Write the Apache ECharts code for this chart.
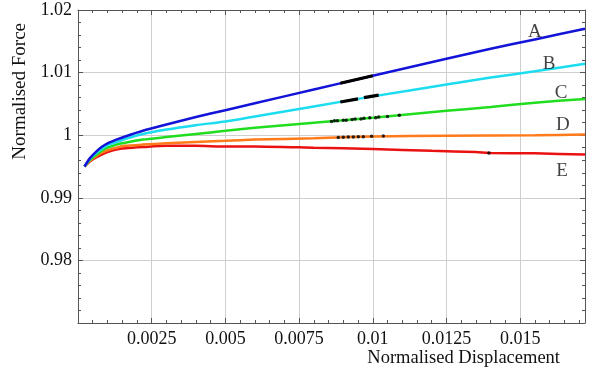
<!DOCTYPE html>
<html>
<head>
<meta charset="utf-8">
<script src="https://cdn.jsdelivr.net/npm/echarts@6/dist/echarts.min.js"></script>
<style>
  html, body { margin: 0; padding: 0; background: #fff; }
  #chart { width: 589px; height: 373px; }
</style>
</head>
<body>
<div id="chart"></div>
<script>
// Normalised force vs normalised displacement, five cases A–E
const xA = [0.00022, 0.0004, 0.0006, 0.0008, 0.001, 0.0013, 0.0016, 0.0022, 0.003, 0.004, 0.005, 0.006, 0.008, 0.010, 0.0125, 0.014, 0.0155, 0.0172];
const yA = [0.9950, 0.9963, 0.9973, 0.9981, 0.9987, 0.9993, 0.9998, 1.0007, 1.0017, 1.0029, 1.0040, 1.0051, 1.0073, 1.0095, 1.0122, 1.0138, 1.0153, 1.0170];

const xB = [0.00022, 0.0004, 0.0006, 0.0008, 0.001, 0.0013, 0.0016, 0.0022, 0.003, 0.004, 0.005, 0.006, 0.008, 0.010, 0.0125, 0.014, 0.0155, 0.0172];
const yB = [0.9950, 0.9962, 0.9971, 0.9978, 0.9984, 0.9989, 0.9994, 1.0002, 1.0009, 1.0016, 1.0022, 1.0030, 1.0046, 1.0062, 1.0081, 1.0092, 1.0102, 1.0114];

const xC = [0.00022, 0.0004, 0.0006, 0.0008, 0.001, 0.0013, 0.0016, 0.0022, 0.003, 0.004, 0.005, 0.006, 0.008, 0.010, 0.0125, 0.014, 0.0155, 0.0172];
const yC = [0.9950, 0.9960, 0.9968, 0.9975, 0.9980, 0.9985, 0.9988, 0.9993, 0.9997, 1.0002, 1.0007, 1.0012, 1.0020, 1.0028, 1.0039, 1.0045, 1.0052, 1.0058];

const xD = [0.00022, 0.0004, 0.0006, 0.0008, 0.001, 0.0013, 0.0016, 0.0022, 0.003, 0.005, 0.006, 0.008, 0.010, 0.0125, 0.0155, 0.0172];
const yD = [0.9950, 0.9959, 0.9966, 0.9972, 0.9976, 0.9980, 0.9983, 0.9985, 0.9987, 0.9991, 0.9993, 0.9995, 0.9998, 0.9999, 1.0000, 1.0001];

const xE = [0.00022, 0.0004, 0.0006, 0.0008, 0.001, 0.0013, 0.0016, 0.0022, 0.003, 0.004, 0.005, 0.006, 0.008, 0.010, 0.012, 0.0135, 0.014, 0.0155, 0.0172];
const yE = [0.9950, 0.9958, 0.9964, 0.9969, 0.9973, 0.9977, 0.9979, 0.9981, 0.9983, 0.9983, 0.9982, 0.9982, 0.9980, 0.9978, 0.9975, 0.9973, 0.99715, 0.9971, 0.9969];

// Measured points overlaid on the curves
const mAx = [0.0089, 0.0100];
const mAy = [1.0083, 1.0095];
const mB1x = [0.0089, 0.0095];
const mB1y = [1.0053, 1.0058];
const mB2x = [0.0097, 0.0102];
const mB2y = [1.0060, 1.0064];
const mCx = [0.0086, 0.0087, 0.0088, 0.0090, 0.0091, 0.0093, 0.0094, 0.0096, 0.0097, 0.0099, 0.0101, 0.0102, 0.0105, 0.0109];
const mCy = [1.0022, 1.0023, 1.0023, 1.0024, 1.0024, 1.0025, 1.0026, 1.0026, 1.0027, 1.0028, 1.0028, 1.0029, 1.0030, 1.0032];
const mDx = [0.00883, 0.0090, 0.00917, 0.00934, 0.00951, 0.00968, 0.00996, 0.01036];
const mDy = [0.99964, 0.99967, 0.9997, 0.99972, 0.99975, 0.99977, 0.99982, 0.99986];
const mEx = [0.01394];
const mEy = [0.99716];

// Curve letters and where they sit
const tagNames = ['A', 'B', 'C', 'D', 'E'];
const tagX = [0.0155, 0.01598, 0.01639, 0.01645, 0.01642];
const tagY = [1.0165, 1.0114, 1.0068, 1.0017, 0.9943];

const xTickStep = 0.0025;
const yTickStep = 0.01;

const colors = {
  A: '#1414d8',
  B: '#1cdcf0',
  C: '#20dd20',
  D: '#ff7a1a',
  E: '#ea1111'
};

const zip = (xs, ys) => xs.map((x, i) => [x, ys[i]]);
const FONT = '"Liberation Serif", "Times New Roman", serif';
const frameColor = '#555';

const baseX = {
  type: 'value', min: 0, max: 0.0172, interval: xTickStep,
  axisLine: { show: true, onZero: false, lineStyle: { color: frameColor, width: 1 } },
  axisTick: { show: true, inside: true, length: 5, lineStyle: { color: frameColor } },
  minorTick: { show: true, splitNumber: 5, length: 3, lineStyle: { color: frameColor } },
};
const baseY = {
  type: 'value', min: 0.97, max: 1.02, interval: yTickStep,
  axisLine: { show: true, onZero: false, lineStyle: { color: frameColor, width: 1 } },
  axisTick: { show: true, inside: true, length: 5, lineStyle: { color: frameColor } },
  minorTick: { show: true, splitNumber: 5, length: 3, lineStyle: { color: frameColor } },
};

function curve(name, xs, ys, z) {
  return {
    name, type: 'line', data: zip(xs, ys), showSymbol: false, smooth: 0.2,
    lineStyle: { color: colors[name], width: 2.5 }, z, animation: false
  };
}

function blackLine(xs, ys) {
  return {
    type: 'line', data: zip(xs, ys), showSymbol: false,
    lineStyle: { color: '#000', width: 3.2 }, z: 10, animation: false
  };
}

function blackDots(xs, ys) {
  return {
    type: 'scatter', data: zip(xs, ys), symbolSize: 3.5,
    itemStyle: { color: '#000' }, z: 10, animation: false
  };
}

const chart = echarts.init(document.getElementById('chart'), null, { renderer: 'canvas' });
chart.setOption({
  animation: false,
  backgroundColor: '#fff',
  grid: { left: 78, right: 4, top: 10, bottom: 50, containLabel: false, outerBoundsMode: 'none' },
  xAxis: [
    Object.assign({}, baseX, {
      position: 'bottom',
      splitLine: { show: true, lineStyle: { color: '#cfcfcf', width: 1 } },
      axisLabel: {
        show: true, showMinLabel: false, showMaxLabel: false, margin: 7,
        fontFamily: FONT, fontSize: 18, color: '#111',
        formatter: v => String(+v.toFixed(5))
      }
    }),
    Object.assign({}, baseX, {
      position: 'top',
      splitLine: { show: false },
      axisLabel: { show: false }
    })
  ],
  yAxis: [
    Object.assign({}, baseY, {
      position: 'left',
      splitLine: { show: true, lineStyle: { color: '#cfcfcf', width: 1 } },
      axisLabel: {
        show: true, showMinLabel: false, margin: 6,
        fontFamily: FONT, fontSize: 18, color: '#111',
        formatter: v => String(+v.toFixed(4))
      }
    }),
    Object.assign({}, baseY, {
      position: 'right',
      splitLine: { show: false },
      axisLabel: { show: false }
    })
  ],
  series: [
    curve('E', xE, yE, 2),
    curve('D', xD, yD, 3),
    curve('C', xC, yC, 4),
    curve('B', xB, yB, 5),
    curve('A', xA, yA, 6),
    blackLine(mAx, mAy),
    blackLine(mB1x, mB1y),
    blackLine(mB2x, mB2y),
    blackDots(mCx, mCy),
    blackDots(mDx, mDy),
    blackDots(mEx, mEy),
    {
      type: 'scatter', symbolSize: 0, z: 12, animation: false,
      data: tagNames.map((n, i) => ({ value: [tagX[i], tagY[i]], name: n })),
      label: {
        show: true, position: 'inside', formatter: p => p.name,
        fontFamily: FONT, fontSize: 19, color: '#111'
      }
    }
  ],
  graphic: [
    {
      type: 'text', left: 11, top: 23, rotation: Math.PI / 2,
      style: { text: 'Normalised Force', font: '19px ' + FONT, fill: '#111' },
      originX: 0, originY: 0
    },
    {
      type: 'text', right: 29, top: 349,
      style: { text: 'Normalised Displacement', font: '18.5px ' + FONT, fill: '#111' }
    }
  ]
});
</script>
</body>
</html>
